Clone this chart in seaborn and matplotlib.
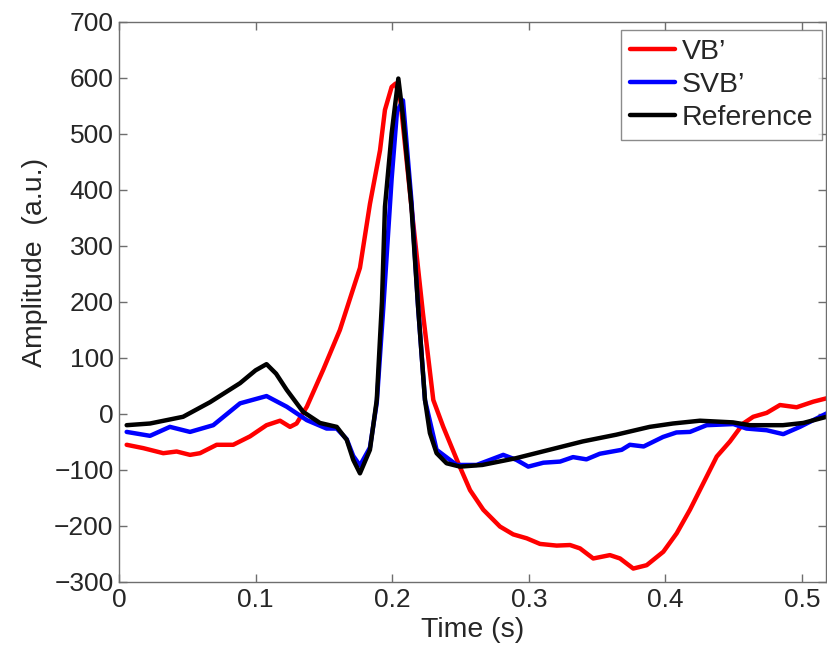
import matplotlib
matplotlib.use("Agg")
import matplotlib.pyplot as plt
import numpy as np
import pandas as pd
import seaborn as sns

# Reference beat (black)
ref_t = [0.0056, 0.0227, 0.0469, 0.0666, 0.0886, 0.1000, 0.1080, 0.1150, 0.1228,
         0.1347, 0.1471, 0.1594, 0.1667, 0.1715, 0.1764, 0.1837, 0.1887, 0.1925,
         0.1947, 0.1996, 0.2045, 0.2079, 0.2141, 0.2190, 0.2240, 0.2276, 0.2325,
         0.2398, 0.2497, 0.2660, 0.2905, 0.3150, 0.3395, 0.3640, 0.3885, 0.4055,
         0.4253, 0.4495, 0.4619, 0.4860, 0.5010, 0.5180]
ref_v = [-20, -17, -5, 21, 55, 78, 89, 72, 43,
         4, -16, -23, -46, -82, -106, -64, 25, 200,
         370, 501, 599, 531, 370, 190, 25, -34, -70,
         -88, -94, -91, -79, -64, -49, -37, -23, -17,
         -12, -15, -20, -20, -16, -5]

# SVB' estimate (blue)
svb_t = [0.0056, 0.0227, 0.0373, 0.0520, 0.0690, 0.0886, 0.1080, 0.1228, 0.1375,
         0.1520, 0.1594, 0.1667, 0.1715, 0.1764, 0.1837, 0.1887, 0.1935, 0.1996,
         0.2035, 0.2079, 0.2141, 0.2190, 0.2240, 0.2325, 0.2472, 0.2618, 0.2716,
         0.2813, 0.2910, 0.2996, 0.3107, 0.3229, 0.3324, 0.3422, 0.3520, 0.3680,
         0.3740, 0.3841, 0.3983, 0.4081, 0.4180, 0.4302, 0.4498, 0.4594, 0.4741,
         0.4863, 0.4985, 0.5107, 0.5180]
svb_v = [-32, -39, -23, -32, -20, 19, 32, 13, -11,
         -26, -26, -45, -75, -92, -60, 20, 190, 420,
         540, 560, 380, 190, 25, -64, -91, -91, -82,
         -73, -82, -94, -87, -85, -77, -81, -71, -64,
         -55, -58, -41, -33, -32, -20, -18, -26, -29,
         -36, -23, -8, 1]

# VB' estimate (red)
vb_t = [0.0056, 0.0178, 0.0324, 0.0422, 0.0520, 0.0593, 0.0715, 0.0836, 0.0959,
        0.1080, 0.1179, 0.1252, 0.1300, 0.1375, 0.1495, 0.1617, 0.1764, 0.1837,
        0.1911, 0.1947, 0.1996, 0.2025, 0.2060, 0.2141, 0.2225, 0.2301, 0.2374,
        0.2484, 0.2570, 0.2667, 0.2789, 0.2886, 0.2985, 0.3082, 0.3204, 0.3302,
        0.3375, 0.3472, 0.3594, 0.3668, 0.3765, 0.3863, 0.3985, 0.4083, 0.4180,
        0.4277, 0.4376, 0.4473, 0.4570, 0.4643, 0.4742, 0.4839, 0.4961, 0.5083,
        0.5180]
vb_v = [-55, -61, -70, -67, -73, -70, -55, -55, -40,
        -20, -12, -23, -17, 13, 79, 150, 261, 375,
        471, 543, 584, 590, 560, 370, 180, 25, -23,
        -88, -136, -171, -201, -215, -222, -232, -235, -234,
        -240, -258, -252, -258, -276, -270, -246, -213, -171,
        -124, -76, -49, -17, -5, 2, 16, 12, 22,
        28]

series_names = ["VB\u2019", "SVB\u2019", "Reference"]
series_colors = ["#ff0000", "#0000ff", "#000000"]

frames = []
for name, t, v in zip(series_names, [vb_t, svb_t, ref_t], [vb_v, svb_v, ref_v]):
    frames.append(pd.DataFrame({"t": t, "v": v, "series": name}))
df = pd.concat(frames, ignore_index=True)

sns.set_theme(style="white")
plt.rcParams["font.family"] = ["Liberation Sans", "DejaVu Sans"]

fig = plt.figure(figsize=(8.27, 6.54), dpi=100)
ax = fig.add_axes([0.1439, 0.1101, 0.8549, 0.8563])

sns.lineplot(data=df, x="t", y="v", hue="series", hue_order=series_names,
             palette=dict(zip(series_names, series_colors)), estimator=None,
             sort=False, units="series", linewidth=3.2, ax=ax)

ax.set_xlim(0, 0.5176)
ax.set_ylim(-300, 700)
ax.set_xticks([0, 0.1, 0.2, 0.3, 0.4, 0.5])
ax.set_xticklabels(["0", "0.1", "0.2", "0.3", "0.4", "0.5"])
ax.set_yticks(np.arange(-300, 701, 100))
ax.set_xlabel("Time (s)", fontsize=20.5, labelpad=4)
ax.set_ylabel("Amplitude  (a.u.)", fontsize=20.5)
ax.yaxis.set_label_coords(-0.101, 0.571)

ax.tick_params(axis="both", which="both", direction="in", length=6, width=1,
               color="#6e6e6e", labelsize=19, top=True, right=True,
               bottom=True, left=True, pad=4)
for s in ax.spines.values():
    s.set_color("#6e6e6e")
    s.set_linewidth(1.0)
    s.set_visible(True)

leg = ax.legend(loc="upper right", bbox_to_anchor=(0.9943, 0.9857), fontsize=20.5,
                frameon=True, fancybox=False, handlelength=1.58, handletextpad=0.25,
                labelspacing=0.26, borderpad=0.3, borderaxespad=0.0)
leg.get_frame().set_edgecolor("#6e6e6e")
leg.get_frame().set_linewidth(1.0)
for line in leg.get_lines():
    line.set_linewidth(3.2)

fig.savefig("out.png", dpi=100)
